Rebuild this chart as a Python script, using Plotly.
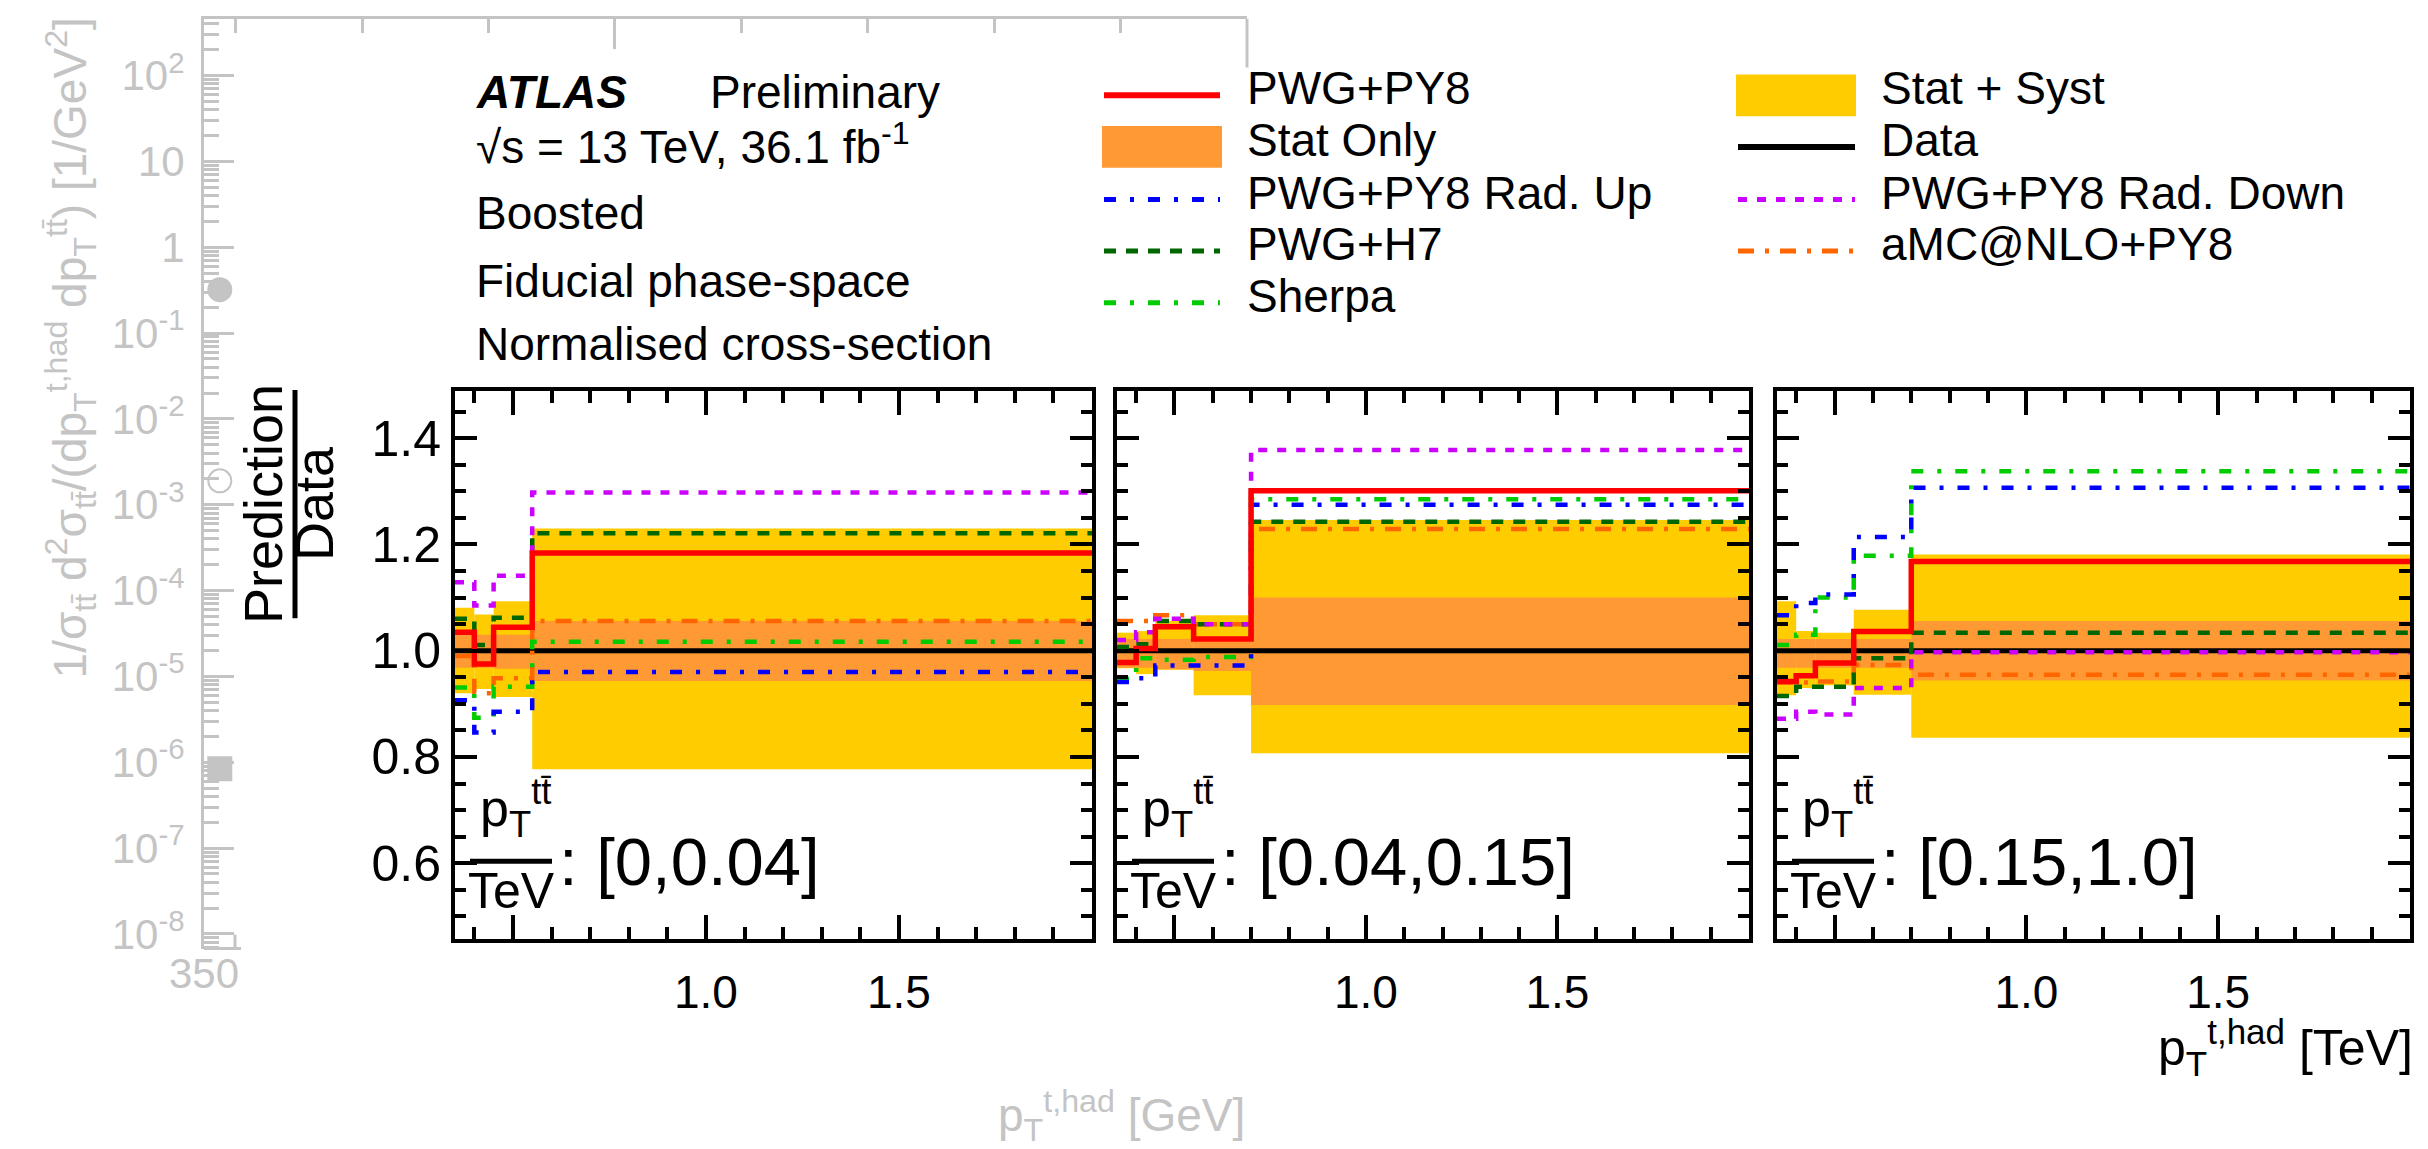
import plotly.graph_objects as go

W, H = 2428, 1149

# ---------------- data ----------------
edges_p1 = [0.35, 0.40, 0.45, 0.55, 2.00]
edges_p23 = [0.35, 0.40, 0.45, 0.55, 0.70, 2.00]

panel_labels = [": [0,0.04]", ": [0.04,0.15]", ": [0.15,1.0]"]

# panel 1  (pT(tt) in [0,0.04] TeV)
p1_pwg_py8 = [1.035, 0.975, 1.044, 1.184]
p1_syst_hi = [1.081, 1.068, 1.093, 1.230]
p1_syst_lo = [0.920, 0.928, 0.913, 0.777]
p1_stat_hi = [1.030, 1.030, 1.030, 1.056]
p1_stat_lo = [0.968, 0.968, 0.966, 0.943]
p1_rad_up = [0.907, 0.846, 0.885, 0.960]
p1_h7 = [1.060, 1.011, 1.062, 1.221]
p1_sherpa = [0.931, 0.874, 0.932, 1.017]
p1_rad_down = [1.129, 1.085, 1.141, 1.298]
p1_amc = [0.990, 0.920, 0.948, 1.056]

# panel 2  (pT(tt) in [0.04,0.15] TeV)
p2_pwg_py8 = [0.978, 1.004, 1.045, 1.022, 1.301]
p2_syst_hi = [1.034, 1.037, 1.056, 1.067, 1.246]
p2_syst_lo = [0.967, 0.956, 0.964, 0.916, 0.807]
p2_stat_hi = [1.022, 1.022, 1.022, 1.022, 1.100]
p2_stat_lo = [0.968, 0.968, 0.965, 0.962, 0.898]
p2_rad_up = [0.941, 0.948, 0.972, 0.972, 1.275]
p2_h7 = [1.007, 1.012, 1.056, 1.050, 1.243]
p2_sherpa = [0.947, 0.986, 0.983, 0.988, 1.285]
p2_rad_down = [1.020, 1.035, 1.060, 1.050, 1.378]
p2_amc = [1.056, 1.056, 1.067, 1.050, 1.229]

# panel 3  (pT(tt) in [0.15,1.0] TeV)
p3_pwg_py8 = [0.942, 0.953, 0.977, 1.036, 1.168]
p3_syst_hi = [1.093, 1.037, 1.034, 1.077, 1.181]
p3_syst_lo = [0.916, 0.930, 0.935, 0.917, 0.836]
p3_stat_hi = [1.022, 1.022, 1.022, 1.022, 1.056]
p3_stat_lo = [0.968, 0.968, 0.968, 0.968, 0.944]
p3_rad_up = [1.067, 1.090, 1.106, 1.214, 1.307]
p3_h7 = [0.915, 0.932, 0.932, 0.986, 1.034]
p3_sherpa = [1.011, 1.030, 1.100, 1.179, 1.338]
p3_rad_down = [0.872, 0.885, 0.880, 0.930, 0.997]
p3_amc = [0.940, 0.940, 0.942, 0.973, 0.955]

# faded background (absolute distribution) visible markers
ghost_x = [375, 375, 375]
ghost_y = [0.32, 1.9e-3, 8.4e-7]
ghost_symbols = ["circle", "circle-open", "square"]

ratio_ticks = [0.6, 0.8, 1.0, 1.2, 1.4]
ratio_ticktext = ["0.6", "0.8", "1.0", "1.2", "1.4"]
pt_ticks = [0.5, 1.0, 1.5]
pt_ticktext = ["", "1.0", "1.5"]
ghost_decades = [1e-8, 1e-7, 1e-6, 1e-5, 1e-4, 1e-3, 1e-2, 1e-1, 1, 10, 100]
ghost_decade_text = ["10<sup>-8</sup>", "10<sup>-7</sup>", "10<sup>-6</sup>", "10<sup>-5</sup>",
                     "10<sup>-4</sup>", "10<sup>-3</sup>", "10<sup>-2</sup>", "10<sup>-1</sup>",
                     "1", "10", "10<sup>2</sup>"]

# ---------------- styles ----------------
C_RED = "#ff0000"
C_SYST = "#ffcc00"
C_STAT = "#ff9933"
C_BLUE = "#0000ff"
C_DGREEN = "#006600"
C_GREEN = "#00cc00"
C_MAG = "#cc00ff"
C_AMC = "#ff6600"
C_GHOST = "#c4c4c4"

D_RADUP = "12px,14px,4px,14px"
D_H7 = "12px,10px"
D_SHERPA = "12px,14px,4px,14px"
D_RADDOWN = "9px,10px"
D_AMC = "16px,11px,4px,11px"

FONT = "Liberation Sans, Arial, Helvetica, sans-serif"

def px(x):
    return x / W

def py(y):
    return 1 - y / H

# panel geometry (pixels)
panels_px = [(447, 1084), (1109, 1741), (1769, 2402)]
top_px, bot_px = 386, 938

fig = go.Figure()

panels = [
    (edges_p1, p1_pwg_py8, p1_syst_hi, p1_syst_lo, p1_stat_hi, p1_stat_lo, p1_rad_up, p1_h7, p1_sherpa, p1_rad_down, p1_amc),
    (edges_p23, p2_pwg_py8, p2_syst_hi, p2_syst_lo, p2_stat_hi, p2_stat_lo, p2_rad_up, p2_h7, p2_sherpa, p2_rad_down, p2_amc),
    (edges_p23, p3_pwg_py8, p3_syst_hi, p3_syst_lo, p3_stat_hi, p3_stat_lo, p3_rad_up, p3_h7, p3_sherpa, p3_rad_down, p3_amc),
]

for i, (edges, red, shi, slo, sthi, stlo, rup, h7, sh, rdn, amc) in enumerate(panels):
    xa = "x" if i == 0 else f"x{i+1}"
    ya = "y" if i == 0 else f"y{i+1}"
    centers = [(edges[k] + edges[k + 1]) / 2 for k in range(len(edges) - 1)]
    widths = [edges[k + 1] - edges[k] for k in range(len(edges) - 1)]
    fig.add_trace(go.Bar(x=centers, y=[h - l for h, l in zip(shi, slo)], base=slo, width=widths,
                         marker=dict(color=C_SYST, line=dict(width=0)), xaxis=xa, yaxis=ya,
                         showlegend=False, hoverinfo="skip"))
    fig.add_trace(go.Bar(x=centers, y=[h - l for h, l in zip(sthi, stlo)], base=stlo, width=widths,
                         marker=dict(color=C_STAT, line=dict(width=0)), xaxis=xa, yaxis=ya,
                         showlegend=False, hoverinfo="skip"))
    data_line = [1.0] * (len(edges))
    fig.add_trace(go.Scatter(x=edges, y=data_line, mode="lines", line=dict(color="black", width=5, shape="hv"),
                             xaxis=xa, yaxis=ya, showlegend=False, hoverinfo="skip"))
    for vals, col, dash, wid in [(amc, C_AMC, D_AMC, 4.5), (sh, C_GREEN, D_SHERPA, 4.5),
                                 (h7, C_DGREEN, D_H7, 4.5), (rdn, C_MAG, D_RADDOWN, 4.5),
                                 (rup, C_BLUE, D_RADUP, 4.5), (red, C_RED, "solid", 5.5)]:
        fig.add_trace(go.Scatter(x=edges, y=list(vals) + [vals[-1]], mode="lines",
                                 line=dict(color=col, width=wid, dash=dash, shape="hv"),
                                 xaxis=xa, yaxis=ya, showlegend=False, hoverinfo="skip"))

# ghost markers (faded background plot)
for gx, gy, gs in zip(ghost_x, ghost_y, ghost_symbols):
    fig.add_trace(go.Scatter(x=[gx], y=[gy], mode="markers", xaxis="x4", yaxis="y4",
                             marker=dict(symbol=gs, size=23, color=C_GHOST,
                                         line=dict(color=C_GHOST, width=2)),
                             showlegend=False, hoverinfo="skip"))

layout = dict(width=W, height=H, margin=dict(l=0, r=0, t=0, b=0),
              paper_bgcolor="white", plot_bgcolor="rgba(0,0,0,0)",
              font=dict(family=FONT, color="black", size=46),
              barmode="overlay", showlegend=False)

for i, (x0, x1) in enumerate(panels_px):
    xk = "xaxis" if i == 0 else f"xaxis{i+1}"
    yk = "yaxis" if i == 0 else f"yaxis{i+1}"
    ya = "y" if i == 0 else f"y{i+1}"
    xa = "x" if i == 0 else f"x{i+1}"
    layout[xk] = dict(domain=[px(x0), px(x1)], anchor=ya, range=[0.35, 2.0],
                      showline=True, linecolor="black", linewidth=4, mirror="allticks",
                      ticks="inside", ticklen=24, tickwidth=4, tickcolor="black",
                      tickvals=pt_ticks, ticktext=pt_ticktext,
                      tickfont=dict(size=46, family=FONT), ticklabelstandoff=10,
                      minor=dict(ticks="inside", ticklen=12, tickwidth=4, tickcolor="black", dtick=0.1, tick0=0),
                      showgrid=False, zeroline=False, fixedrange=True)
    layout[yk] = dict(domain=[py(bot_px), py(top_px)], anchor=xa, range=[0.458, 1.489],
                      showline=True, linecolor="black", linewidth=4, mirror="allticks",
                      ticks="inside", ticklen=22, tickwidth=4, tickcolor="black",
                      tickvals=ratio_ticks, ticktext=ratio_ticktext,
                      showticklabels=(i == 0), tickfont=dict(size=50, family=FONT),
                      minor=dict(ticks="inside", ticklen=11, tickwidth=4, tickcolor="black", dtick=0.05, tick0=0),
                      showgrid=False, zeroline=False, fixedrange=True)

ghost_minor = [m * d for d in [1e-9, 1e-8, 1e-7, 1e-6, 1e-5, 1e-4, 1e-3, 1e-2, 1e-1, 1, 10, 100] for m in range(2, 10)]
layout["xaxis4"] = dict(domain=[px(196), px(1239)], anchor="y4", side="top", range=[350, 2000],
                        showline=True, linecolor=C_GHOST, linewidth=3, ticks="inside",
                        tickvals=[1000], ticklen=30, tickwidth=3, tickcolor=C_GHOST,
                        showticklabels=False,
                        minor=dict(ticks="inside", tickvals=[400, 600, 800, 1200, 1400, 1600, 1800],
                                   ticklen=14, tickwidth=3, tickcolor=C_GHOST),
                        showgrid=False, zeroline=False)
layout["yaxis4"] = dict(domain=[py(948), py(11)], anchor="x4", type="log", range=[-8.17, 2.659],
                        showline=True, linecolor=C_GHOST, linewidth=3, ticks="inside",
                        tickvals=ghost_decades, ticktext=ghost_decade_text,
                        ticklen=30, tickwidth=3, tickcolor=C_GHOST,
                        tickfont=dict(size=42, color=C_GHOST, family=FONT), ticklabelstandoff=8,
                        minor=dict(ticks="inside", tickvals=ghost_minor, ticklen=15, tickwidth=3, tickcolor=C_GHOST),
                        showgrid=False, zeroline=False)

shapes = []
annotations = []

def ann(text, x, y, size=46, xanchor="left", yanchor="middle", color="black", angle=0):
    annotations.append(dict(text=text, x=px(x), y=py(y), xref="paper", yref="paper",
                            xanchor=xanchor, yanchor=yanchor, showarrow=False, textangle=angle,
                            font=dict(size=size, color=color, family=FONT)))

def hline(x0, x1, y, color, width, dash="solid"):
    shapes.append(dict(type="line", xref="paper", yref="paper", x0=px(x0), x1=px(x1), y0=py(y), y1=py(y),
                       line=dict(color=color, width=width, dash=dash)))

def vline(x, y0, y1, color, width):
    shapes.append(dict(type="line", xref="paper", yref="paper", x0=px(x), x1=px(x), y0=py(y0), y1=py(y1),
                       line=dict(color=color, width=width)))

def box(x0, x1, y0, y1, color):
    shapes.append(dict(type="rect", xref="paper", yref="paper", x0=px(x0), x1=px(x1), y0=py(y1), y1=py(y0),
                       fillcolor=color, line=dict(width=0)))

# ghost decorations
vline(1239, 11, 60, C_GHOST, 3)
hline(196, 233, 948, C_GHOST, 3)
vline(227, 934, 948, C_GHOST, 3)
ann("350", 196, 973, size=42, xanchor="center", color=C_GHOST)
ann("p<sub>T</sub><sup>t,had</sup> [GeV]", 1239, 1116, size=46, xanchor="right", color=C_GHOST)
ann("1/σ<sub>tt̄</sub> d<sup>2</sup>σ<sub>tt̄</sub>/(dp<sub>T</sub><sup>t,had</sup> dp<sub>T</sub><sup>tt̄</sup>) [1/GeV<sup>2</sup>]",
    62, 8, size=46, xanchor="center", yanchor="top", color=C_GHOST, angle=-90)

# ATLAS label block
ann("<b><i>ATLAS</i></b>", 466, 85, size=46)
ann("Preliminary", 700, 85, size=46)
ann("√s = 13 TeV, 36.1 fb<sup>-1</sup>", 466, 137, size=46)
ann("Boosted", 466, 207, size=46)
ann("Fiducial phase-space", 466, 275, size=46)
ann("Normalised cross-section", 466, 339, size=46)

# legend (column 1)
rows = [88, 140, 193, 245, 297]
tshift = -7
hline(1096, 1212, rows[0], C_RED, 6)
box(1094, 1214, rows[1] - 21, rows[1] + 21, C_STAT)
hline(1096, 1212, rows[2], C_BLUE, 5, D_RADUP)
hline(1096, 1212, rows[3], C_DGREEN, 5, D_H7)
hline(1096, 1212, rows[4], C_GREEN, 5, D_SHERPA)
for t, r in zip(["PWG+PY8", "Stat Only", "PWG+PY8 Rad. Up", "PWG+H7", "Sherpa"], rows):
    ann(t, 1237, r + tshift, size=46)
# legend (column 2)
box(1728, 1848, rows[0] - 21, rows[0] + 21, C_SYST)
hline(1730, 1847, rows[1], "black", 6)
hline(1730, 1847, rows[2], C_MAG, 5, D_RADDOWN)
hline(1730, 1847, rows[3], C_AMC, 5, D_AMC)
for t, r in zip(["Stat + Syst", "Data", "PWG+PY8 Rad. Down", "aMC@NLO+PY8"], rows[:4]):
    ann(t, 1871, r + tshift, size=46)

# y title Prediction / Data
vline(287, 385, 615, "black", 5)
ann("Prediction", 255, 500, size=54, xanchor="center", angle=-90)
ann("Data", 306, 500, size=54, xanchor="center", angle=-90)

# panel slice labels
for (x0, x1), lab in zip(panels_px, panel_labels):
    hline(x0 + 15, x0 + 97, 860, "black", 5)
    ann("p<sub>T</sub><sup>tt̄</sup>", x0 + 60, 806, size=52, xanchor="center")
    ann("TeV", x0 + 56, 890, size=50, xanchor="center")
    ann(lab, x0 + 102, 860, size=67)

# x title
ann("p<sub>T</sub><sup>t,had</sup> [TeV]", 2407, 1048, size=50, xanchor="right")

layout["shapes"] = shapes
layout["annotations"] = annotations
fig.update_layout(**layout)
fig.write_html("out.html")
